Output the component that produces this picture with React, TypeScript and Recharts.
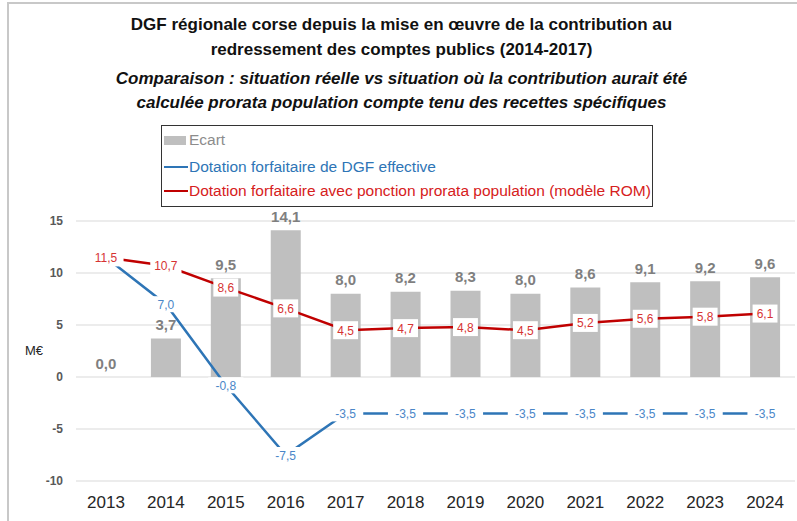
import { ComposedChart, Bar, Line, XAxis, YAxis, CartesianGrid, LabelList } from "recharts";

const years = ["2013", "2014", "2015", "2016", "2017", "2018", "2019", "2020", "2021", "2022", "2023", "2024"];
const ecart = [0.0, 3.7, 9.5, 14.1, 8.0, 8.2, 8.3, 8.0, 8.6, 9.1, 9.2, 9.6];
const dgfEffective = [11.5, 7.0, -0.8, -7.5, -3.5, -3.5, -3.5, -3.5, -3.5, -3.5, -3.5, -3.5];
const dgfProrata = [11.5, 10.7, 8.6, 6.6, 4.5, 4.7, 4.8, 4.5, 5.2, 5.6, 5.8, 6.1];
const yTicks = [-10, -5, 0, 5, 10, 15];

const data = years.map((year, i) => ({
  year,
  ecart: ecart[i],
  effective: dgfEffective[i],
  prorata: dgfProrata[i],
}));

const FONT = "Arial, 'Liberation Sans', sans-serif";
const fmt = (v: number) => v.toFixed(1).replace(".", ",");

// gray value above each bar (drawn from an invisible line so 0,0 shows too)
function EcartLabel(props: any) {
  const { x, y, value } = props;
  return (
    <text
      x={x}
      y={y - 14}
      textAnchor="middle"
      dominantBaseline="central"
      fontFamily={FONT}
      fontSize={15}
      fontWeight="bold"
      fill="#7F7F7F"
    >
      {fmt(value)}
    </text>
  );
}

// boxed label sitting on the point, cuts the line like Excel does
function makeBoxLabel(color: string, padX: number, boxH: number) {
  return function BoxLabel(props: any) {
    const { x, y, value } = props;
    const txt = fmt(value);
    const w = txt.length * 6.3 + padX * 2;
    return (
      <g>
        <rect x={x - w / 2} y={y - boxH / 2} width={w} height={boxH} fill="#FFFFFF" />
        <text
          x={x}
          y={y + 0.5}
          textAnchor="middle"
          dominantBaseline="central"
          fontFamily={FONT}
          fontSize={12}
          fill={color}
        >
          {txt}
        </text>
      </g>
    );
  };
}

const BlueLabel = makeBoxLabel("#4A86C8", 5, 16);
const RedLabel = makeBoxLabel("#D63333", 3, 18);

const titleLine = (text: string, top: number, italic: boolean) => (
  <div
    style={{
      position: "absolute",
      left: 3,
      top,
      width: 797,
      textAlign: "center",
      fontFamily: FONT,
      fontSize: 17,
      fontWeight: "bold",
      fontStyle: italic ? "italic" : "normal",
      color: "#111",
      whiteSpace: "nowrap",
      lineHeight: "20px",
    }}
  >
    {text}
  </div>
);

export default function App() {
  return (
    <div
      style={{
        position: "absolute",
        left: 0,
        top: 0,
        width: 797,
        height: 521,
        background: "#fff",
        overflow: "hidden",
      }}
    >
      {/* frame */}
      <div
        style={{
          position: "absolute",
          left: 7,
          top: 2,
          width: 820,
          height: 540,
          borderLeft: "2px solid #C8C8C8",
          borderTop: "2px solid #C8C8C8",
        }}
      />

      {titleLine("DGF régionale corse depuis la mise en œuvre de la contribution au", 15, false)}
      {titleLine("redressement des comptes publics (2014-2017)", 40, false)}
      {titleLine("Comparaison : situation réelle vs situation où la contribution aurait été", 69, true)}
      {titleLine("calculée prorata population compte tenu des recettes spécifiques", 93, true)}

      <div style={{ position: "absolute", left: 0, top: 0 }}>
        <ComposedChart
          width={797}
          height={521}
          data={data}
          margin={{ top: 221, right: 2, left: 16, bottom: 0 }}
          barCategoryGap={0}
        >
          <CartesianGrid horizontal vertical={false} stroke="#D9D9D9" />
          <XAxis
            dataKey="year"
            axisLine={false}
            tickLine={false}
            tickSize={0}
            tickMargin={15}
            height={40}
            interval={0}
            tick={{ fontSize: 17, fill: "#262626", fontFamily: FONT }}
          />
          <YAxis
            domain={[-10, 15]}
            ticks={yTicks}
            width={60}
            axisLine={false}
            tickLine={false}
            tickSize={0}
            tickMargin={13}
            tick={{ fontSize: 12, fill: "#595959", fontFamily: FONT, fontWeight: "bold" }}
          />
          <Bar dataKey="ecart" fill="#BFBFBF" barSize={30} isAnimationActive={false} />
          <Line
            dataKey="ecart"
            stroke="none"
            dot={false}
            activeDot={false}
            legendType="none"
            isAnimationActive={false}
          >
            <LabelList dataKey="ecart" content={EcartLabel} />
          </Line>
          <Line
            dataKey="effective"
            stroke="#2E75B6"
            strokeWidth={2.5}
            dot={false}
            activeDot={false}
            isAnimationActive={false}
          >
            <LabelList dataKey="effective" content={BlueLabel} />
          </Line>
          <Line
            dataKey="prorata"
            stroke="#C00000"
            strokeWidth={2.5}
            dot={false}
            activeDot={false}
            isAnimationActive={false}
          >
            <LabelList dataKey="prorata" content={RedLabel} />
          </Line>
        </ComposedChart>
      </div>

      {/* y axis unit */}
      <div
        style={{
          position: "absolute",
          left: 25,
          top: 343,
          fontFamily: FONT,
          fontSize: 13,
          color: "#262626",
        }}
      >
        M€
      </div>

      {/* legend box */}
      <div
        style={{
          position: "absolute",
          left: 161,
          top: 125,
          width: 490,
          height: 80,
          border: "1px solid #333",
          background: "#fff",
          fontFamily: FONT,
          fontSize: 15.5,
          overflow: "hidden",
        }}
      >
        <div style={{ position: "absolute", left: 2, top: 5, display: "flex", alignItems: "center", whiteSpace: "nowrap" }}>
          <span style={{ display: "inline-block", width: 22, height: 9, background: "#BFBFBF" }} />
          <span style={{ color: "#8C8C8C", marginLeft: 3 }}>Ecart</span>
        </div>
        <div style={{ position: "absolute", left: 2, top: 32, display: "flex", alignItems: "center", whiteSpace: "nowrap" }}>
          <span style={{ display: "inline-block", width: 24, height: 2, background: "#2E75B6" }} />
          <span style={{ color: "#2E75B6", marginLeft: 1 }}>Dotation forfaitaire de DGF effective</span>
        </div>
        <div style={{ position: "absolute", left: 2, top: 56, display: "flex", alignItems: "center", whiteSpace: "nowrap" }}>
          <span style={{ display: "inline-block", width: 24, height: 2, background: "#C00000" }} />
          <span style={{ color: "#D62020", marginLeft: 1 }}>
            Dotation forfaitaire avec ponction prorata population (modèle ROM)
          </span>
        </div>
      </div>
    </div>
  );
}
